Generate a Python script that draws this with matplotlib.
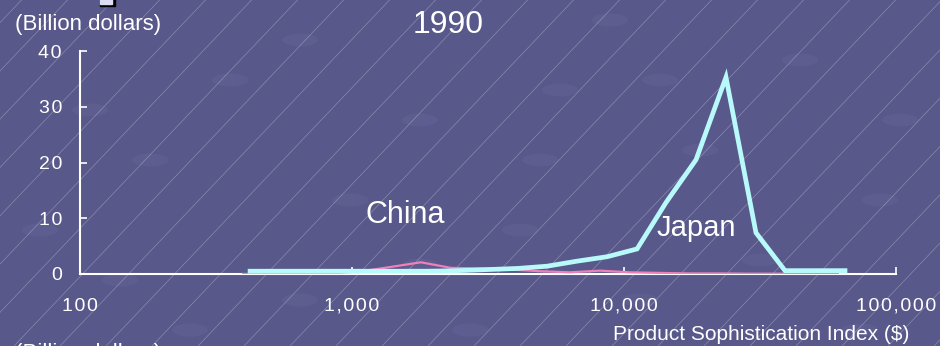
import numpy as np
import matplotlib
matplotlib.use('Agg')
import matplotlib.pyplot as plt
from matplotlib.patches import Rectangle, Ellipse

plt.rcParams['font.family'] = ['Liberation Sans', 'DejaVu Sans']

# product sophistication index bins ($) and export values (billion dollars)
japan_psi = [422, 543, 695, 895, 1155, 1489, 1901, 2453, 3162, 4074, 5212,
             6714, 8670, 11170, 14260, 18400, 23710, 30560, 39080, 50350, 64940]
japan_exports = [0.5, 0.5, 0.5, 0.5, 0.5, 0.5, 0.5, 0.6, 0.8, 1.0, 1.4,
                 2.3, 3.1, 4.5, 12.8, 20.5, 35.3, 7.4, 0.6, 0.6, 0.6]

china_psi = [398, 512, 655, 843, 1088, 1403, 1791, 2311, 2979, 3838, 4910,
             6325, 8168, 10520, 13430, 17330, 22340, 28790, 36810, 47430, 61170]
china_exports = [0.0, 0.0, 0.0, 0.1, 0.5, 1.3, 2.1, 1.1, 1.0, 0.8, 0.5,
                 0.3, 0.6, 0.3, 0.2, 0.1, 0.1, 0.05, 0.05, 0.05, 0.05]

x_ticks = [100, 1000, 10000, 100000]
x_ticklabels = ['100', '1,000', '10,000', '100,000']
y_ticks = [0, 10, 20, 30, 40]


def spaced(s):
    # open up the digits a little with hair spaces
    return '\u200a'.join(s)


bg = '#58588a'
W, H = 940, 346

fig = plt.figure(figsize=(W / 100, H / 100), dpi=100, facecolor=bg)

# textured backdrop: faint blobs and thin diagonal rules
back = fig.add_axes([0, 0, 1, 1], zorder=0)
back.set_xlim(0, W)
back.set_ylim(H, 0)
back.axis('off')
back.set_facecolor(bg)
blobs = [(40, 230), (150, 160), (230, 80), (300, 300), (420, 120), (520, 230),
         (610, 20), (640, 300), (700, 150), (800, 60), (880, 200), (860, 330),
         (350, 200), (190, 330), (560, 90), (760, 260), (470, 330), (90, 110),
         (300, 40), (660, 80), (540, 160), (120, 280), (900, 120), (420, 265)]
for bx, by in blobs:
    back.add_patch(Ellipse((bx, by), 36, 13, color='#66669a', alpha=0.4, lw=0))
for x0 in np.arange(-400, W + 50, 46):
    back.plot([x0, x0 + H / 1.05], [H, 0], color='white', lw=0.5, alpha=0.3)

ax = fig.add_axes([80 / W, 1 - 274 / H, (896 - 80) / W, (274 - 51) / H], zorder=1)
ax.patch.set_alpha(0)

ax.plot(china_psi, china_exports, color='#f080b8', lw=1.6, solid_joinstyle='miter', zorder=3)
ax.plot(japan_psi, japan_exports, color='#b8fafa', lw=3.4, solid_joinstyle='miter', zorder=4)

ax.set_xscale('log')
ax.set_xlim(100, 100000)
ax.set_ylim(0, 40)
ax.set_xticks(x_ticks)
ax.set_xticklabels([spaced(t) for t in x_ticklabels])
ax.set_yticks(y_ticks)
ax.set_yticklabels([spaced(str(t)) for t in y_ticks])
ax.minorticks_off()
for s in ['top', 'right']:
    ax.spines[s].set_visible(False)
for s in ['left', 'bottom']:
    ax.spines[s].set_color('white')
    ax.spines[s].set_linewidth(1.5)
ax.tick_params(axis='both', direction='in', length=5, width=1.2, colors='white',
               labelcolor='white')
ax.tick_params(axis='y', labelsize=14, pad=13)
ax.tick_params(axis='x', labelsize=14, pad=17)

ax.text(1117, 9.15, 'China', color='white', fontsize=22, va='baseline')
ax.text(13210, 6.8, 'Japan', color='white', fontsize=21, va='baseline', zorder=5)

fig.text(448 / W, 1 - 25 / H, '1990', color='white', fontsize=23, ha='center', va='center')
fig.text(15 / W, 1 - 30 / H, '(Billion dollars)', color='white', fontsize=16, va='baseline')
fig.text(909 / W, 1 - 340 / H, 'Product Sophistication Index ($)', color='white',
         fontsize=15, ha='right', va='baseline')
fig.text(15 / W, 1 - 359 / H, '(Billion dollars)', color='white', fontsize=16, va='baseline')

# small marker block at the top edge
back.add_patch(Rectangle((100, -1), 15, 7, color='black', zorder=2))
back.add_patch(Rectangle((100, -1), 12, 5, color='#dcdcf4', zorder=3))

fig.savefig('out.png', dpi=100, facecolor=bg)
